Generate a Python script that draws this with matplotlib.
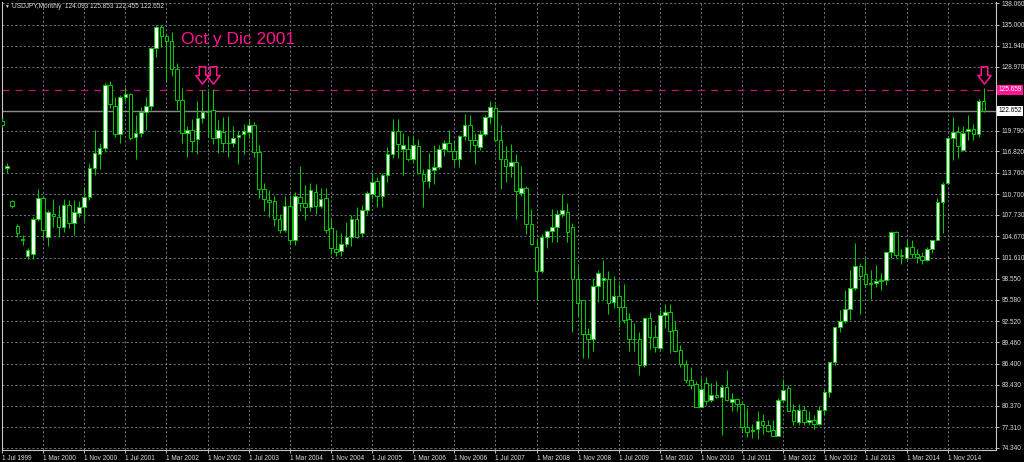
import numpy as np
import matplotlib
matplotlib.use('Agg')
import matplotlib.pyplot as plt
from matplotlib.path import Path
from matplotlib.transforms import blended_transform_factory

plt.rcParams['font.family'] = ['Liberation Sans', 'DejaVu Sans']

# Monthly USDJPY candles, Jul 1999 .. Jun 2015
opens = [
    121.2, 114.4, 109.7, 106.2, 104.3, 101.8,
    102.1, 107.2, 110.1, 104.6, 107.9, 107.5, 106.0, 109.2, 106.5, 108.0, 108.8, 110.3,
    114.4, 116.4, 117.3, 126.3, 123.4, 119.3, 124.6, 125.0, 118.9, 119.4, 122.4, 123.3,
    131.6, 134.6, 133.3, 132.6, 128.6, 124.2, 119.4, 119.9, 118.6, 121.6, 122.4, 122.7,
    118.8, 119.6, 118.0, 118.0, 118.9, 119.3, 119.6, 120.6, 116.7, 111.4, 109.9, 109.7,
    107.2, 105.5, 109.0, 104.1, 110.3, 109.4, 108.8, 111.0, 109.0, 110.1, 105.8, 102.9,
    102.6, 103.5, 104.5, 107.1, 105.1, 108.5, 110.7, 112.6, 110.5, 113.4, 116.5, 119.8,
    117.1, 117.2, 115.7, 117.6, 113.6, 112.6, 114.2, 114.6, 117.2, 118.0, 116.9, 115.7,
    119.0, 120.6, 118.5, 117.4, 119.3, 121.7, 123.0, 118.5, 115.7, 114.7, 115.3, 110.9,
    111.6, 106.4, 103.2, 99.7, 104.6, 105.4, 106.0, 107.8, 108.2, 106.0, 98.5, 95.5,
    90.6, 89.9, 97.5, 98.4, 98.5, 95.3, 96.1, 94.6, 92.8, 89.9, 89.9, 86.2,
    92.9, 90.2, 88.7, 93.4, 93.8, 91.2, 88.4, 86.3, 84.1, 83.5, 80.2, 83.7,
    81.2, 82.0, 81.7, 83.1, 80.9, 81.3, 80.7, 77.3, 76.8, 77.0, 78.2, 77.6,
    76.9, 76.1, 81.2, 83.0, 79.8, 78.1, 79.8, 78.0, 78.3, 77.8, 79.8, 82.3,
    86.7, 91.6, 92.5, 94.3, 97.3, 100.4, 99.3, 97.9, 98.0, 98.3, 98.4, 102.4,
    105.3, 102.0, 101.6, 103.2, 102.2, 101.8, 101.3, 102.8, 104.1, 109.6, 112.3, 118.8,
    119.6, 117.0, 119.7, 120.1, 119.3, 124.093,
]
highs = [
    121.6, 115.1, 109.9, 106.4, 104.8, 103.0,
    107.5, 111.5, 110.3, 108.4, 110.0, 109.1, 110.0, 109.8, 109.8, 109.7, 111.7, 115.1,
    119.9, 118.0, 126.6, 126.9, 124.6, 124.9, 126.0, 125.2, 122.0, 123.2, 124.6, 131.75,
    135.0, 135.0, 133.7, 133.9, 129.5, 125.9, 120.5, 121.4, 124.1, 125.6, 125.5, 125.7,
    121.3, 121.7, 121.9, 120.5, 119.8, 120.8, 121.3, 121.0, 117.7, 112.3, 111.3, 110.4,
    107.9, 110.4, 110.6, 111.0, 114.8, 112.0, 112.3, 112.2, 111.6, 111.6, 107.1, 105.5,
    105.1, 106.7, 107.7, 108.9, 109.1, 111.2, 113.7, 113.2, 113.8, 117.4, 121.4, 121.4,
    119.4, 119.0, 119.2, 118.6, 114.3, 116.6, 117.8, 117.7, 118.4, 119.9, 118.4, 119.2,
    122.2, 122.0, 119.5, 119.9, 122.0, 124.1, 123.6, 120.6, 117.6, 117.9, 116.4, 114.7,
    111.8, 108.6, 104.3, 105.0, 105.6, 108.6, 108.5, 110.7, 109.4, 106.5, 100.6, 95.6,
    91.5, 98.7, 99.8, 101.3, 99.7, 99.0, 97.8, 97.8, 93.7, 92.3, 90.9, 93.1,
    93.8, 91.9, 94.2, 95.0, 94.9, 92.5, 89.1, 87.0, 86.0, 83.9, 84.3, 84.5,
    83.7, 84.0, 83.3, 85.5, 82.2, 81.5, 81.0, 80.1, 77.8, 79.6, 79.2, 78.3,
    78.3, 81.5, 84.2, 83.3, 80.6, 80.6, 80.3, 79.6, 79.0, 80.4, 82.8, 86.7,
    91.7, 94.1, 96.9, 99.9, 103.7, 100.8, 101.5, 99.9, 100.5, 99.4, 102.6, 105.4,
    105.4, 102.8, 104.1, 104.1, 102.9, 102.4, 103.1, 104.2, 110.1, 112.4, 118.9, 121.8,
    120.5, 120.4, 122.0, 120.8, 124.4, 125.853,
]
lows = [
    120.3, 113.7, 108.7, 104.6, 103.4, 101.4,
    101.4, 106.9, 104.4, 103.3, 106.0, 104.5, 105.3, 105.8, 104.8, 107.4, 106.9, 109.8,
    113.4, 114.3, 116.7, 123.1, 118.9, 118.1, 124.1, 118.4, 115.7, 118.9, 119.9, 122.8,
    130.3, 131.75, 126.8, 127.7, 122.7, 118.1, 116.0, 116.8, 116.5, 120.9, 118.9, 117.9,
    116.6, 116.7, 116.0, 117.5, 115.0, 116.5, 118.7, 116.0, 110.1, 108.3, 107.5, 106.2,
    105.2, 105.3, 103.4, 103.4, 108.3, 107.0, 108.3, 107.9, 108.7, 105.1, 102.1, 101.9,
    101.8, 103.1, 103.3, 104.4, 104.5, 107.8, 110.0, 108.8, 108.9, 112.5, 115.9, 115.9,
    113.4, 115.5, 115.1, 113.6, 108.9, 111.6, 112.1, 114.3, 116.2, 116.7, 114.9, 114.6,
    118.5, 116.8, 115.0, 117.0, 119.0, 120.8, 118.3, 111.4, 112.5, 113.2, 107.2, 110.5,
    105.0, 103.4, 95.7, 99.4, 103.0, 103.9, 103.8, 107.4, 103.8, 90.9, 93.3, 87.2,
    87.2, 88.3, 95.3, 95.5, 93.6, 94.4, 91.6, 92.3, 88.2, 88.2, 84.8, 86.0,
    88.5, 88.1, 88.2, 91.5, 87.9, 88.1, 86.0, 83.6, 82.8, 80.2, 80.2, 80.5,
    80.9, 81.5, 76.2, 81.1, 79.6, 79.7, 76.6, 75.9, 75.8, 75.6, 76.4, 76.6,
    76.0, 76.0, 80.9, 79.7, 77.7, 77.7, 77.6, 77.6, 77.0, 77.6, 79.1, 81.7,
    86.2, 90.9, 92.3, 92.7, 97.0, 93.6, 97.6, 95.7, 97.4, 96.9, 97.7, 101.6,
    101.5, 100.7, 101.2, 101.5, 100.8, 100.7, 101.1, 102.3, 104.1, 105.1, 112.3, 115.6,
    115.9, 116.9, 118.4, 118.5, 118.9, 122.455,
]
closes = [
    120.6, 114.8, 109.0, 105.1, 104.2, 102.7,
    107.2, 110.1, 105.5, 108.1, 107.6, 106.0, 109.2, 106.5, 108.1, 108.9, 110.3, 114.4,
    116.6, 117.3, 126.3, 123.6, 119.3, 124.6, 125.0, 118.8, 119.4, 122.4, 123.3, 131.6,
    134.6, 133.3, 132.6, 128.6, 124.2, 119.4, 119.9, 118.3, 121.6, 122.4, 122.5, 118.8,
    119.9, 118.0, 118.1, 118.8, 119.2, 119.7, 120.6, 116.7, 111.4, 110.0, 109.6, 107.2,
    105.5, 109.0, 104.1, 110.5, 109.4, 108.8, 111.3, 109.0, 110.0, 105.6, 103.0, 102.4,
    103.6, 104.6, 107.1, 104.6, 108.5, 110.8, 112.5, 110.4, 113.4, 116.5, 119.8, 117.9,
    117.8, 115.7, 117.7, 113.7, 112.6, 114.3, 114.6, 117.2, 118.0, 116.9, 115.7, 119.0,
    120.6, 118.5, 117.7, 119.3, 121.7, 123.2, 118.5, 115.7, 114.7, 115.3, 111.2, 111.6,
    106.4, 103.6, 99.7, 104.6, 105.4, 106.0, 107.8, 108.5, 105.3, 98.5, 95.1, 90.7,
    89.9, 97.5, 99.4, 98.7, 95.1, 96.1, 94.5, 92.7, 89.9, 90.0, 86.2, 93.0,
    90.2, 88.8, 93.4, 93.8, 91.1, 88.3, 86.3, 84.1, 83.3, 80.2, 82.8, 81.0,
    82.0, 81.7, 83.1, 81.2, 81.3, 80.6, 77.3, 76.6, 76.9, 78.2, 77.6, 76.8,
    76.1, 81.2, 82.7, 79.7, 78.2, 79.8, 78.0, 78.3, 77.8, 79.8, 82.4, 86.7,
    91.7, 92.5, 94.3, 97.3, 100.4, 99.0, 97.8, 98.0, 98.3, 98.4, 102.4, 105.3,
    102.0, 101.8, 103.1, 102.2, 101.7, 101.3, 102.8, 104.1, 109.6, 112.2, 118.8, 119.6,
    117.6, 119.5, 120.1, 119.3, 124.1, 122.652,
]

time_tick_labels = ['1 Jul 1999', '1 Mar 2000', '1 Nov 2000', '1 Jul 2001', '1 Mar 2002',
                    '1 Nov 2002', '1 Jul 2003', '1 Mar 2004', '1 Nov 2004', '1 Jul 2005',
                    '1 Mar 2006', '1 Nov 2006', '1 Jul 2007', '1 Mar 2008', '1 Nov 2008',
                    '1 Jul 2009', '1 Mar 2010', '1 Nov 2010', '1 Jul 2011', '1 Mar 2012',
                    '1 Nov 2012', '1 Jul 2013', '1 Mar 2014', '1 Nov 2014']
time_tick_step = 8  # months between time labels

price_ticks = [138.060, 135.000, 131.940, 128.970, 119.790, 116.820, 113.760, 110.700,
               107.730, 104.670, 101.610, 98.550, 95.580, 92.520, 89.460, 86.400,
               83.430, 80.370, 77.310, 74.340]

resistance_level = 125.659
annotation_text = 'Oct y Dic 2001'
arrow_months = [39, 41, 191]   # Oct 2002, Dec 2002, Jun 2015
arrow_price = 127.8
header = 'USDJPY,Monthly  124.093 125.853 122.455 122.652'

GREEN = '#00cc00'
PINK = '#FF1493'
FG = '#dcdcdc'
GRID = '#6b7580'

o = np.array(opens); h = np.array(highs); l = np.array(lows); c = np.array(closes)
x = np.arange(len(c))

fig = plt.figure(figsize=(10.24, 4.62), dpi=100, facecolor='black')
ax = fig.add_axes([2 / 1024, 12 / 462, 994 / 1024, 448 / 462])
ax.set_facecolor('black')

ax.set_xlim(0, 193.4)
ax.set_ylim(74.05, 138.23)

# grid
ax.set_xticks(x[::time_tick_step][:len(time_tick_labels)], time_tick_labels)
ax.set_yticks(price_ticks, [f'{v:.3f}' for v in price_ticks])
ax.grid(True, color=GRID, linestyle=(0, (2.2, 2.2)), linewidth=0.7, zorder=0)
ax.set_axisbelow(True)

# price lines
ax.axhline(c[-1], color='#8a8a8a', linewidth=1.0, zorder=2)
ax.axhline(resistance_level, color='#cc1078', linewidth=0.9, linestyle=(0, (5.5, 5)), zorder=2)

# candles
up = c >= o
ax.vlines(x, l, h, color=GREEN, linewidth=0.75, zorder=3)
bottom = np.minimum(o, c)
height = np.abs(c - o)
ax.bar(x, height, bottom=bottom, width=0.7,
       color=np.where(up, 'white', 'black'), edgecolor=GREEN, linewidth=0.7, zorder=4)

# axes styling
for s in ['left', 'right', 'bottom']:
    ax.spines[s].set_color('#c8c8c8')
    ax.spines[s].set_linewidth(0.8)
ax.spines['top'].set_visible(False)
ax.yaxis.tick_right()
ax.tick_params(axis='y', length=2.5, width=0.6, pad=1.5, labelsize=4.7, colors=FG)
ax.tick_params(axis='x', length=2.5, width=0.6, pad=1.0, labelsize=4.7, colors=FG)
for lbl in ax.get_xticklabels():
    lbl.set_horizontalalignment('left')

# special price labels on the right
btr = blended_transform_factory(ax.transAxes, ax.transData)
ax.text(1.0025, resistance_level, f'{resistance_level:.3f}', transform=btr, fontsize=4.7,
        color='white', va='center', ha='left',
        bbox=dict(boxstyle='square,pad=0.2', fc=PINK, ec='none'), clip_on=False, zorder=6)
ax.text(1.0025, c[-1], f'{c[-1]:.3f}', transform=btr, fontsize=4.7,
        color='black', va='center', ha='left',
        bbox=dict(boxstyle='square,pad=0.2', fc='white', ec='none'), clip_on=False, zorder=6)

# annotation
ax.text(34.8, 132.18, annotation_text, color=PINK, fontsize=12.5, va='baseline', ha='left', zorder=6)
arrow_path = Path([(-0.38, 1), (0.38, 1), (0.38, 0), (0.76, 0), (0, -1), (-0.76, 0),
                   (-0.38, 0), (-0.38, 1)],
                  [Path.MOVETO] + [Path.LINETO] * 6 + [Path.CLOSEPOLY])
ax.plot(arrow_months, [arrow_price] * len(arrow_months), linestyle='none', marker=arrow_path,
        markersize=12.5, markerfacecolor='none', markeredgecolor=PINK, markeredgewidth=1.1,
        zorder=7)

# header
fig.text(4 / 1024, 1 - 6 / 462, '▼', fontsize=3.5, color=FG, va='center', ha='left')
fig.text(12 / 1024, 1 - 6 / 462, header, fontsize=4.7, color=FG, va='center', ha='left')

fig.savefig('out.png', dpi=100, facecolor='black')
